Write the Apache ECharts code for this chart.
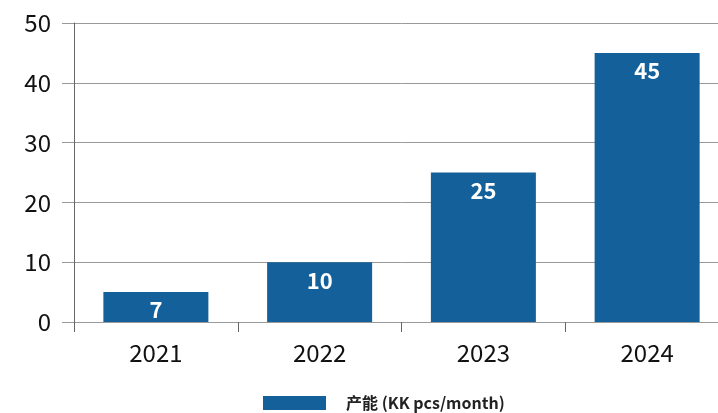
<!DOCTYPE html>
<html>
<head>
<meta charset="utf-8">
<script src="https://cdn.jsdelivr.net/npm/echarts@6/dist/echarts.min.js"></script>
<style>
  html, body { margin: 0; padding: 0; background: #fff; overflow: hidden; }
  #main { width: 729px; height: 413px; }
</style>
</head>
<body>
<div id="main"></div>
<script>
// 数据
var years = ['2021', '2022', '2023', '2024'];
var capacity = [5, 10, 25, 45];
var capacityLabels = ['7', '10', '25', '45'];
var seriesName = '产能 (KK pcs/month)';

var FONT = '"Noto Sans CJK JP", "Noto Sans", sans-serif';

// 图表比窗口略宽，右边缘被裁掉
var chart = echarts.init(document.getElementById('main'));
var option = {
    animation: false,
    textStyle: { fontFamily: FONT },
    grid: {
        left: 74,
        top: 23,
        right: 0,
        bottom: 91
    },
    legend: {
        data: [seriesName],
        left: 258,
        top: 390,
        itemWidth: 63,
        itemHeight: 14,
        itemGap: 20,
        icon: 'rect',
        textStyle: { fontSize: 16, fontWeight: 'bold', color: '#222', fontFamily: FONT, padding: [0, 0, 0, 15] }
    },
    xAxis: {
        type: 'category',
        data: years,
        axisLine: { lineStyle: { color: '#999', width: 1 } },
        axisTick: { show: true, length: 10, lineStyle: { color: '#666' } },
        axisLabel: { fontSize: 24, color: '#111', margin: 19, fontFamily: FONT }
    },
    yAxis: {
        type: 'value',
        min: 0,
        max: 50,
        interval: 10,
        axisLine: { show: true, lineStyle: { color: '#666', width: 1 } },
        axisTick: { show: true, length: 12, lineStyle: { color: '#999' } },
        axisLabel: { fontSize: 24, color: '#111', margin: 23, fontFamily: FONT },
        splitLine: { lineStyle: { color: '#999', width: 1 } }
    },
    series: [{
        name: seriesName,
        type: 'bar',
        data: capacity,
        barWidth: 105,
        itemStyle: { color: '#13609A' },
        label: {
            show: true,
            position: 'insideTop',
            distance: 7,
            color: '#fff',
            fontSize: 22,
            fontWeight: 'bold',
            fontFamily: FONT,
            formatter: function (p) { return capacityLabels[p.dataIndex]; }
        }
    }]
};
chart.setOption(option);
</script>
</body>
</html>
